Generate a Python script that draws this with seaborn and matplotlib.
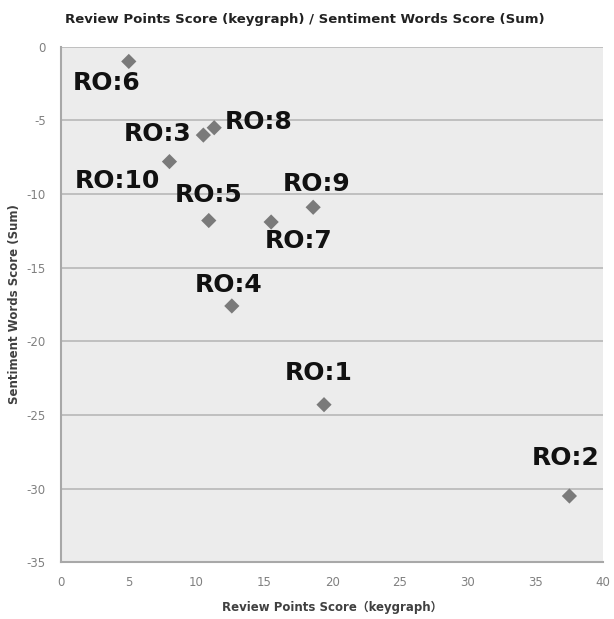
import matplotlib
matplotlib.use("Agg")
import matplotlib.pyplot as plt
import seaborn as sns
import pandas as pd

# ---- data ----
labels = ["RO:1", "RO:2", "RO:3", "RO:4", "RO:5", "RO:6", "RO:7", "RO:8", "RO:9", "RO:10"]
review_points = [19.4, 37.5, 10.5, 12.6, 10.9, 5.0, 15.5, 11.3, 18.6, 8.0]
sentiment_sum = [-24.3, -30.5, -6.0, -17.6, -11.8, -1.0, -11.9, -5.5, -10.9, -7.8]
x_ticks = [0, 5, 10, 15, 20, 25, 30, 35, 40]
y_ticks = [0, -5, -10, -15, -20, -25, -30, -35]

title = "Review Points Score (keygraph) / Sentiment Words Score (Sum)"
x_label = "Review Points Score（keygraph）"
y_label = "Sentiment Words Score (Sum)"

# label offsets (points) for annotation placement
label_offsets = [(-3.6, 23), (-2.9, 27.4), (-33, 0.7), (-2.2, 15.1), (0, 18.4),
                 (-15.6, -15.6), (19.8, -14), (31.7, 4.2), (2.2, 16.8), (-37.8, -13.9)]

df = pd.DataFrame({"x": review_points, "y": sentiment_sum, "label": labels})

sns.set_theme(style="white")
plt.rcParams["font.family"] = ["DejaVu Sans", "Noto Sans CJK JP"]
plt.rcParams["axes.unicode_minus"] = False

fig = plt.figure(figsize=(6.14, 6.19), dpi=100)
ax = fig.add_axes([61 / 614, 1 - 562.3 / 619, (603.3 - 61) / 614, (562.3 - 46.7) / 619])
ax.set_facecolor("#ececec")

sns.scatterplot(data=df, x="x", y="y", marker="D", s=60, color="#7a7a7a",
                edgecolor="none", ax=ax, zorder=3)

for lab, xv, yv, off in zip(labels, review_points, sentiment_sum, label_offsets):
    ax.annotate(lab, (xv, yv), xytext=off, textcoords="offset points",
                ha="center", va="center", fontsize=18, fontweight="bold",
                color="#111111", zorder=4)

ax.set_xlim(0, 40)
ax.set_ylim(-35, 0)
ax.set_xticks(x_ticks)
ax.set_yticks(y_ticks)
ax.tick_params(axis="both", length=0, labelsize=8.5, labelcolor="#808080")
ax.tick_params(axis="x", pad=10)
ax.tick_params(axis="y", pad=11)
ax.yaxis.grid(True, color="#b8b8b8", linewidth=1.2)
ax.xaxis.grid(False)
ax.set_axisbelow(True)
for side in ["top", "right"]:
    ax.spines[side].set_visible(False)
for side in ["left", "bottom"]:
    ax.spines[side].set_color("#a8a8a8")
    ax.spines[side].set_linewidth(1.5)

ax.set_xlabel(x_label, fontsize=8.5, fontweight="bold", color="#404040",
              family=["DejaVu Sans", "Noto Sans CJK JP"])
ax.xaxis.set_label_coords(0.5, -0.075)
ax.xaxis.label.set_va("top")
ax.set_ylabel(y_label, fontsize=8.5, fontweight="bold", color="#404040")
ax.yaxis.set_label_coords(-0.085, 0.5)
ax.yaxis.label.set_va("center")

fig.text(0.497, 1 - 22.7 / 619, title, ha="center", va="baseline",
         fontsize=9.5, fontweight="bold", color="#222222")

fig.savefig("out.png", dpi=100, facecolor="white")
